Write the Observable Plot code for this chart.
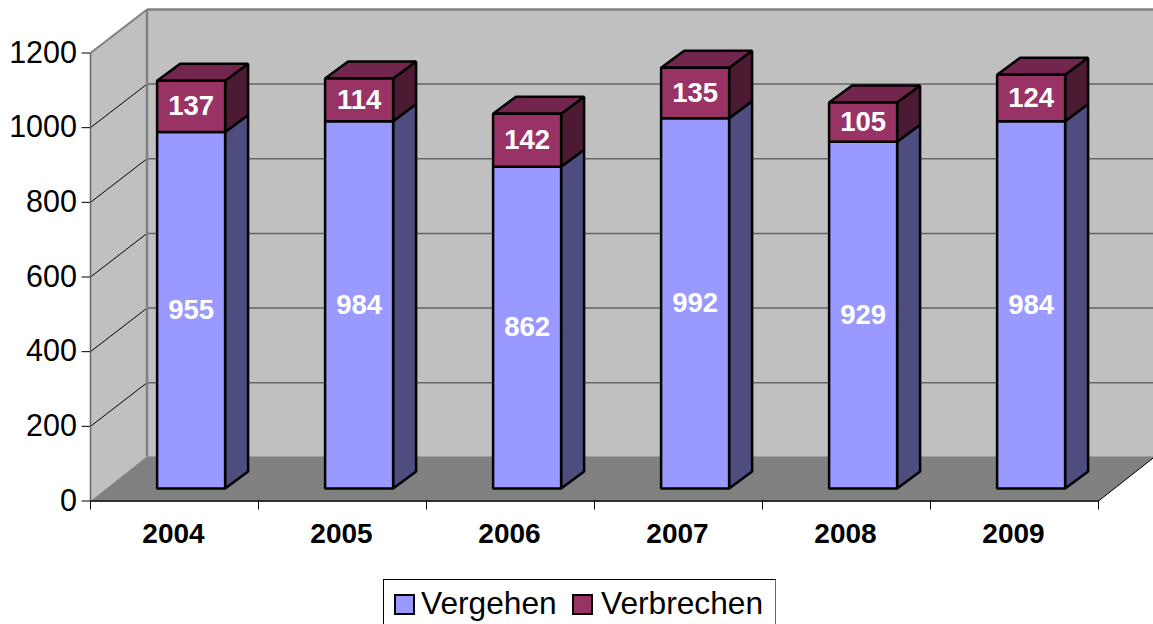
<!DOCTYPE html>
<html>
<head>
<meta charset="utf-8">
<script src="https://cdn.jsdelivr.net/npm/d3@7"></script>
<script src="https://cdn.jsdelivr.net/npm/@observablehq/plot@0.6"></script>
<style>
html,body{margin:0;padding:0;background:#fff;width:1153px;height:624px;overflow:hidden;font-family:"Liberation Sans",Arial,sans-serif}
#legend{box-sizing:border-box;position:absolute;left:383px;top:579px;width:393px;height:45px;border:1px solid #000;border-right-color:#666;border-bottom:none;font-size:31.7px;color:#000}
#legend i{position:absolute;top:14px;width:17px;height:17px;border:2px solid #000}
#legend span{position:absolute;top:3px;line-height:40px;white-space:nowrap}
</style>
</head>
<body>
<div id="chart"></div>
<div id="legend">
  <i style="left:10px;background:#9999FF"></i><span style="left:37px">Vergehen</span>
  <i style="left:188px;background:#993366"></i><span style="left:217px">Verbrechen</span>
</div>
<script>
const years = ["2004","2005","2006","2007","2008","2009"];
const vergehen = [955,984,862,992,929,984];
const verbrechen = [137,114,142,135,105,124];
const gridValues = [200,400,600,800,1000];
const axisValues = [0,200,400,600,800,1000,1200];

// Oblique depth, in data units of the two scales
const wallDx = 56.5/168, wallDy = 116.7, floorDy = 119;
const barDx = 23/168, barDy = 45.6, baseDy = 33.5;
const barX0 = 66.6/168, barX1 = 134.6/168;

const poly = (id, pts) => pts.map(([x,y]) => ({id, x, y}));
const fronts = [[],[]], sides = [[],[]], tops = [];
const labels = [];
years.forEach((yr,i) => {
  const x0 = i+barX0, x1 = i+barX1;
  const b0 = baseDy, b1 = b0+vergehen[i], b2 = b1+verbrechen[i];
  [[b0,b1],[b1,b2]].forEach(([a,b],k) => {
    fronts[k].push(...poly(yr+k, [[x0,a],[x1,a],[x1,b],[x0,b]]));
    sides[k].push(...poly(yr+k, [[x1,a],[x1+barDx,a+barDy],[x1+barDx,b+barDy],[x1,b]]));
    labels.push({x:(x0+x1)/2, y:(a+b)/2, text:String(k?verbrechen[i]:vergehen[i])});
  });
  tops.push(...poly(yr, [[x0,b2],[x1,b2],[x1+barDx,b2+barDy],[x0+barDx,b2+barDy]]));
});

const face = (data, fill) => Plot.line(data, {x:"x", y:"y", z:"id", fill, stroke:"#000", strokeWidth:2.5, strokeLinejoin:"miter", curve:"linear-closed"});
const flat = (pts, fill) => Plot.line(poly("p",pts), {x:"x", y:"y", z:"id", fill, stroke:"none", curve:"linear-closed"});

const chart = Plot.plot({
  width:1153, height:579,
  marginLeft:90, marginRight:55, marginTop:52.5, marginBottom:78.5,
  style:{fontFamily:'"Liberation Sans",Arial,sans-serif', background:"#fff", color:"#000", overflow:"hidden"},
  x:{domain:[0,6], range:[90,1098]},
  y:{domain:[0,1200], range:[500.5,52.5]},
  marks:[
    // walls and floor
    flat([[wallDx,wallDy],[6+wallDx,wallDy],[6+wallDx,1200+wallDy],[wallDx,1200+wallDy]], "#C0C0C0"),
    flat([[0,0],[wallDx,wallDy],[wallDx,1200+wallDy],[0,1200]], "#C0C0C0"),
    flat([[0,0],[6,0],[6+wallDx,floorDy],[wallDx,floorDy]], "#808080"),
    // gridlines
    Plot.link(gridValues, {x1:()=>wallDx, y1:d=>d+wallDy, x2:()=>6+wallDx, y2:d=>d+wallDy, stroke:"#666", strokeWidth:1.5}),
    Plot.link(gridValues, {x1:()=>0, y1:d=>d, x2:()=>wallDx, y2:d=>d+wallDy, stroke:"#000", strokeWidth:1}),
    // wall outlines
    Plot.link([0], {x1:()=>0, y1:()=>1200, x2:()=>wallDx, y2:()=>1200+wallDy, stroke:"#808080", strokeWidth:2}),
    Plot.link([0], {x1:()=>wallDx, y1:()=>floorDy, x2:()=>wallDx, y2:()=>1200+wallDy, stroke:"#808080", strokeWidth:2.5}),
    Plot.link([0], {x1:()=>wallDx, y1:()=>1200+wallDy, x2:()=>6+wallDx, y2:()=>1200+wallDy, stroke:"#808080", strokeWidth:2.5}),
    Plot.link([0], {x1:()=>6, y1:()=>0, x2:()=>6+wallDx, y2:()=>floorDy, stroke:"#000", strokeWidth:1}),
    // bars
    face(sides[0], "#4D4D80"),
    face(sides[1], "#4D1A33"),
    face(tops, "#73264D"),
    face(fronts[0], "#9999FF"),
    face(fronts[1], "#993366"),
    Plot.text(labels, {x:"x", y:"y", text:"text", fill:"#fff", fontSize:27.5, fontWeight:"bold", stroke:"none"}),
    // axes
    Plot.link([0], {x1:()=>0, y1:()=>0, x2:()=>0, y2:()=>1200, stroke:"#666", strokeWidth:1.5}),
    Plot.link([0], {x1:()=>0, y1:()=>0, x2:()=>6, y2:()=>0, stroke:"#333", strokeWidth:2}),
    Plot.axisY({ticks:axisValues, tickSize:8.5, tickPadding:5, fontSize:30.5, label:null, stroke:"#000", fill:"#000", tickFormat:d=>String(d)}),
    Plot.axisX({ticks:[0,1,2,3,4,5,6], tickSize:9, tickFormat:()=>"", label:null}),
    Plot.axisX({ticks:years.map((_,i)=>i+0.494), tickSize:0, tickPadding:22, fontSize:28, fontWeight:"bold", tickFormat:d=>years[Math.round(d-0.494)], label:null})
  ]
});
document.getElementById("chart").append(chart);
chart.style.display="block";
</script>
</body>
</html>
